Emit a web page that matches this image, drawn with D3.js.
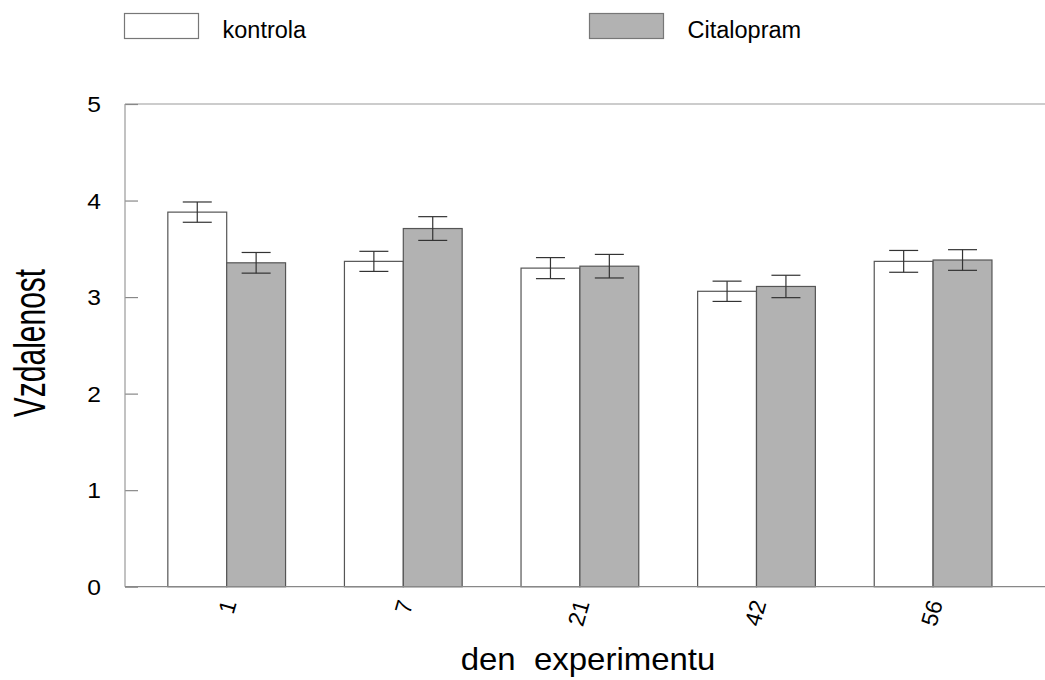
<!DOCTYPE html>
<html lang="cs">
<head>
<meta charset="UTF-8">
<title>Vzdalenost - den experimentu</title>
<script src="https://cdn.jsdelivr.net/npm/d3@7"></script>
<style>
  body { margin: 0; padding: 0; background: #fff; }
  svg text { font-family: 'Liberation Sans', Arial, sans-serif; fill: #000; }
</style>
</head>
<body>
<svg id="chart" width="1045" height="680"></svg>
<script>
// data
const days = ["1", "7", "21", "42", "56"];
const seriesNames = ["kontrola", "Citalopram"];
const kontrola = [3.88, 3.37, 3.30, 3.06, 3.37];
const kontrolaErr = [0.105, 0.104, 0.109, 0.105, 0.113];
const citalopram = [3.355, 3.71, 3.32, 3.11, 3.384];
const citalopramErr = [0.107, 0.123, 0.122, 0.116, 0.107];
const yTicks = [0, 1, 2, 3, 4, 5];

const fills = ["#ffffff", "#b2b2b2"];

const svg = d3.select("#chart");

const plotLeft = 125, plotTop = 104, plotBottom = 586.7, plotRight = 1045;

const x = d3.scaleBand()
  .domain(days)
  .range([138.4, 1021.4])
  .paddingInner(1 / 3)
  .paddingOuter(1 / 6);

const xs = d3.scaleBand()
  .domain(seriesNames)
  .range([0, x.bandwidth()]);

const y = d3.scaleLinear().domain([0, 5]).range([plotBottom, plotTop]);

const rows = days.map(function(d, i) {
  return [
    { day: d, name: seriesNames[0], value: kontrola[i], err: kontrolaErr[i], s: 0 },
    { day: d, name: seriesNames[1], value: citalopram[i], err: citalopramErr[i], s: 1 }
  ];
}).flat();

// frame: top line
svg.append("line")
  .attr("x1", plotLeft).attr("x2", plotRight)
  .attr("y1", plotTop).attr("y2", plotTop)
  .attr("stroke", "#999").attr("stroke-width", 1.2);

// y axis with inward ticks
const yAxis = svg.append("g")
  .attr("transform", "translate(" + plotLeft + ",0)")
  .call(d3.axisRight(y).tickValues(yTicks).tickSize(13).tickFormat(""));
yAxis.select(".domain").remove();
yAxis.selectAll(".tick line").attr("stroke", "#888").attr("stroke-width", 1.2);
svg.append("line")
  .attr("x1", plotLeft).attr("x2", plotLeft)
  .attr("y1", plotTop).attr("y2", plotBottom)
  .attr("stroke", "#999").attr("stroke-width", 1.2);

svg.append("g").selectAll("text")
  .data(yTicks)
  .enter().append("text")
  .attr("text-anchor", "middle")
  .attr("transform", function(d) { return "translate(94," + (y(d) + 8) + ")scale(1.12,1)"; })
  .style("font-size", "22px")
  .text(function(d) { return d; });

// bars
const g = svg.append("g");
g.selectAll("rect")
  .data(rows)
  .enter().append("rect")
  .attr("x", function(d) { return x(d.day) + xs(d.name); })
  .attr("y", function(d) { return y(d.value); })
  .attr("width", xs.bandwidth())
  .attr("height", function(d) { return y(0) - y(d.value); })
  .attr("fill", function(d) { return fills[d.s]; })
  .attr("stroke", "#555")
  .attr("stroke-width", 1.2);

// error bars
const eb = svg.append("g").attr("stroke", "#333").attr("stroke-width", 1.2);
rows.forEach(function(d) {
  const cx = x(d.day) + xs(d.name) + xs.bandwidth() / 2;
  eb.append("line")
    .attr("x1", cx).attr("x2", cx)
    .attr("y1", y(d.value + d.err)).attr("y2", y(d.value - d.err));
  [d.value + d.err, d.value - d.err].forEach(function(v) {
    eb.append("line")
      .attr("x1", cx - 14.5).attr("x2", cx + 14.5)
      .attr("y1", y(v)).attr("y2", y(v));
  });
});

// x axis line
svg.append("line")
  .attr("x1", plotLeft).attr("x2", plotRight)
  .attr("y1", plotBottom).attr("y2", plotBottom)
  .attr("stroke", "#888").attr("stroke-width", 1.2);

// rotated day labels
svg.append("g").selectAll("text")
  .data(days)
  .enter().append("text")
  .attr("text-anchor", "end")
  .attr("transform", function(d) {
    return "translate(" + (x(d) + x.bandwidth() / 2 + 10) + "," + 603 + ")rotate(-74)";
  })
  .style("font-size", "23px")
  .text(function(d) { return d; });

// axis titles
svg.append("text")
  .attr("text-anchor", "middle")
  .attr("transform", "translate(588,670)scale(1.03,1)")
  .style("font-size", "32px")
  .style("white-space", "pre")
  .text("den  experimentu");

svg.append("text")
  .attr("text-anchor", "middle")
  .attr("transform", "translate(45,343)scale(1.45,1)rotate(-90)")
  .style("font-size", "30px")
  .text("Vzdalenost");

// legend
const legendX = [124.5, 589.5];
seriesNames.forEach(function(name, i) {
  svg.append("rect")
    .attr("x", legendX[i]).attr("y", 13.5)
    .attr("width", 74).attr("height", 25)
    .attr("fill", fills[i])
    .attr("stroke", "#777").attr("stroke-width", 1.2);
  svg.append("text")
    .attr("x", legendX[i] + 98)
    .attr("y", 37.5)
    .style("font-size", "23.5px")
    .text(name);
});
</script>
</body>
</html>
